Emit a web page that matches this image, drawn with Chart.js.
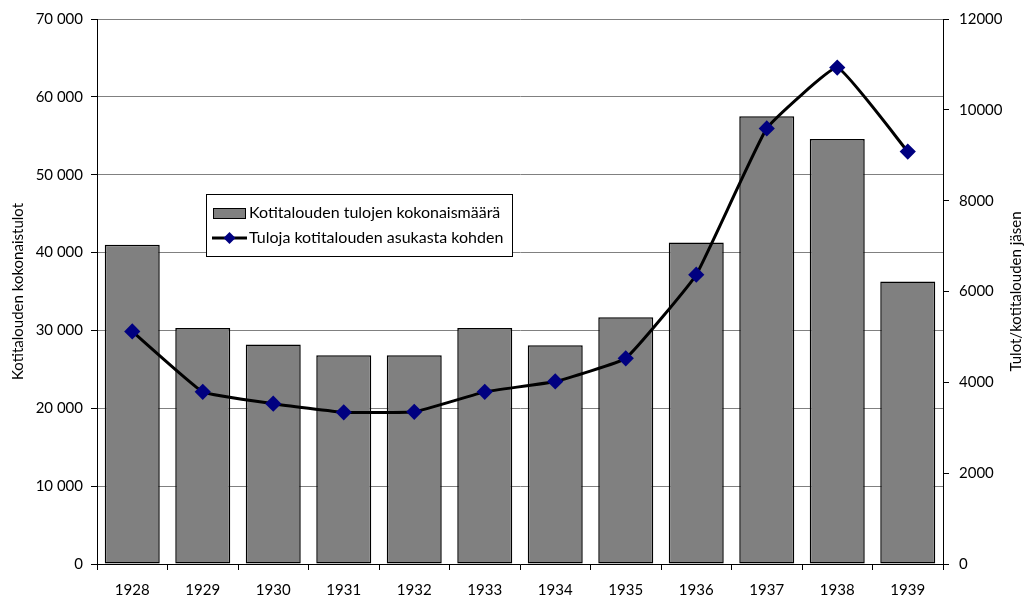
<!DOCTYPE html>
<html>
<head>
  <title>Kotitalouden tulot 1928-1939</title>
  <script src="https://cdn.jsdelivr.net/npm/chart.js"></script>
  <style>
    body { margin: 0; background: #fff; }
  </style>
</head>
<body>
  <canvas id="incomeChart" width="1033" height="605"></canvas>

  <script>
    // values
    const years = ['1928', '1929', '1930', '1931', '1932', '1933', '1934', '1935', '1936', '1937', '1938', '1939'];
    const totalIncome = [41000, 30300, 28200, 26800, 26800, 30300, 28100, 31700, 41300, 57500, 54600, 36300];
    const incomePerMember = [5120, 3790, 3530, 3340, 3350, 3790, 4020, 4530, 6370, 9590, 10930, 9080];
    const barLabel = 'Kotitalouden tulojen kokonaismäärä';
    const lineLabel = 'Tuloja kotitalouden asukasta kohden';
    const leftTitle = 'Kotitalouden kokonaistulot';
    const rightTitle = 'Tulot/kotitalouden jäsen';

    const FONT = 'Lato, "DejaVu Sans", sans-serif';

    // legend box drawn inside the plot, like the original
    const boxLegend = {
      id: 'boxLegend',
      afterDraw(chart) {
        const ctx = chart.ctx;
        const x = 206, y = 194, w = 306, h = 62;
        ctx.save();
        ctx.fillStyle = '#fff';
        ctx.fillRect(x, y, w, h);
        ctx.strokeStyle = '#000';
        ctx.lineWidth = 1;
        ctx.strokeRect(x + 0.5, y + 0.5, w, h);

        ctx.font = '16px ' + FONT;
        ctx.fillStyle = '#000';
        ctx.textBaseline = 'middle';

        // bar row
        ctx.fillStyle = '#808080';
        ctx.fillRect(213, 208, 32, 10);
        ctx.strokeRect(213.5, 208.5, 32, 10);
        ctx.fillStyle = '#000';
        ctx.fillText(barLabel, 249, 213);

        // line row
        ctx.beginPath();
        ctx.lineWidth = 3;
        ctx.moveTo(212, 238);
        ctx.lineTo(247, 238);
        ctx.stroke();
        ctx.fillStyle = '#000080';
        ctx.beginPath();
        ctx.moveTo(229.5, 232);
        ctx.lineTo(235.5, 238);
        ctx.lineTo(229.5, 244);
        ctx.lineTo(223.5, 238);
        ctx.closePath();
        ctx.fill();
        ctx.fillStyle = '#000';
        ctx.fillText(lineLabel, 249, 238);

        // right axis title reads bottom to top
        const area = chart.chartArea;
        ctx.translate(1016, (area.top + area.bottom) / 2);
        ctx.rotate(-Math.PI / 2);
        ctx.textAlign = 'center';
        ctx.font = '15px ' + FONT;
        ctx.fillText(rightTitle, 0, 0);
        ctx.restore();
      }
    };

    const ctx = document.getElementById('incomeChart').getContext('2d');
    new Chart(ctx, {
      data: {
        labels: years,
        datasets: [{
          type: 'line',
          label: lineLabel,
          data: incomePerMember,
          yAxisID: 'y1',
          borderColor: '#000',
          borderWidth: 3,
          tension: 0.1,
          pointStyle: 'rectRot',
          pointRadius: 6,
          pointBackgroundColor: '#000080',
          pointBorderColor: '#000080',
          order: 1
        }, {
          type: 'bar',
          label: barLabel,
          data: totalIncome,
          yAxisID: 'y',
          backgroundColor: '#808080',
          borderColor: '#000',
          borderWidth: 1.5,
          borderSkipped: false,
          barPercentage: 0.78,
          categoryPercentage: 1,
          order: 2
        }]
      },
      options: {
        responsive: false,
        animation: false,
        layout: { padding: { top: 18 } },
        plugins: {
          legend: { display: false },
          tooltip: { enabled: false }
        },
        scales: {
          x: {
            afterFit(scale) { scale.height = 41; },
            grid: { drawOnChartArea: false, tickLength: 6, color: '#000' },
            border: { color: '#000' },
            ticks: { color: '#000', font: { family: FONT, size: 15 }, padding: 11 }
          },
          y: {
            position: 'left',
            min: 0,
            max: 70000,
            afterFit(scale) { scale.width = 97; },
            grid: { color: '#808080', tickLength: 6, tickColor: '#000' },
            border: { color: '#000' },
            ticks: {
              stepSize: 10000,
              color: '#000',
              padding: 8,
              font: { family: FONT, size: 15 },
              callback: v => v === 0 ? '0' : String(v).replace(/\B(?=(\d{3})+(?!\d))/g, ' ')
            },
            title: { display: true, text: leftTitle, color: '#000', font: { family: FONT, size: 15 }, padding: { top: 9, bottom: 0 } }
          },
          y1: {
            position: 'right',
            min: 0,
            max: 12000,
            afterFit(scale) { scale.width = 90; },
            grid: { drawOnChartArea: false, tickLength: 6, tickColor: '#000' },
            border: { color: '#000' },
            ticks: {
              stepSize: 2000,
              color: '#000',
              padding: 10,
              font: { family: FONT, size: 15 },
              callback: v => String(v)
            }
          }
        }
      },
      plugins: [boxLegend]
    });
  </script>
</body>
</html>
